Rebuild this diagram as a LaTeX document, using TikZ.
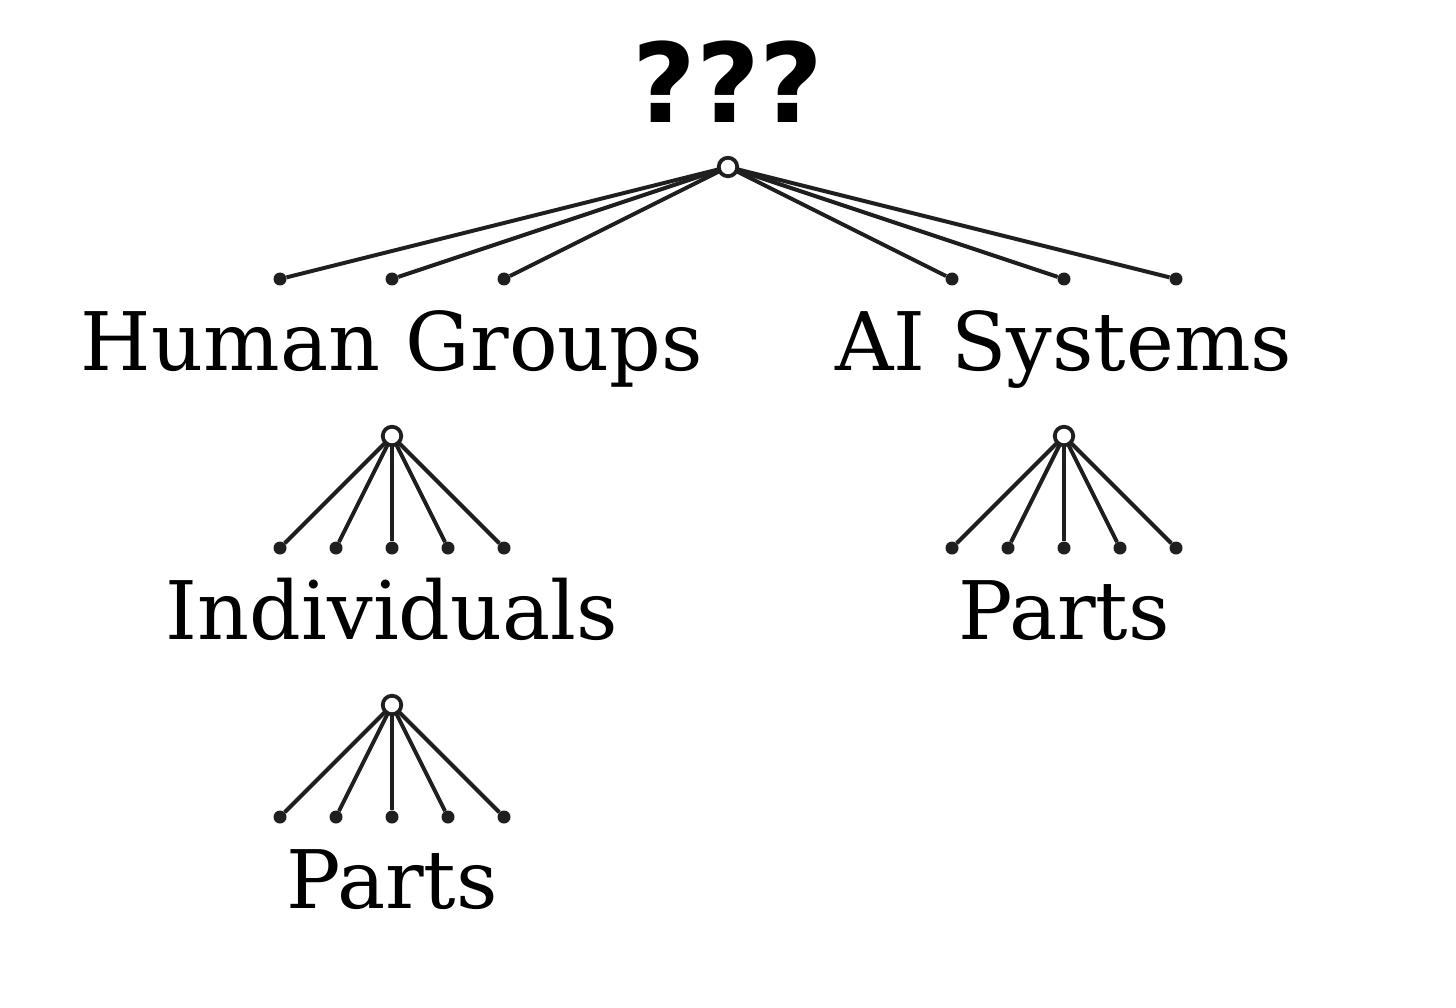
\documentclass[tikz,border=0pt]{standalone}
\usepackage{fontspec}
\setmainfont{DejaVu Serif}
\newfontfamily\qfont{DejaVu Sans}
\begin{document}
\begin{tikzpicture}[x=1pt,y=-1pt,
  edge/.style={draw=black!88, line width=4pt},
  hub/.style={circle, draw=black!88, fill=white, line width=3.8pt, minimum size=18.5pt, inner sep=0pt},
  leaf/.style={circle, fill=black!88, minimum size=13pt, inner sep=0pt},
  lbl/.style={anchor=base, inner sep=0pt, font=\fontsize{80.8}{90}\selectfont},
  ttl/.style={anchor=base, inner sep=0pt, font=\qfont\bfseries\fontsize{110}{120}\selectfont}]
\useasboundingbox (0,0) rectangle (1456,1008);
\node[ttl] (title) at (728,123) {???};
% level 1
\coordinate (h0) at (728,167);
\foreach \i/\x in {1/280,2/392,3/504,4/952,5/1064,6/1176} {
  \node[leaf] (t\i) at (\x,279) {};
  \draw[edge] (h0) -- (t\i);
}
\node[hub] (hub0) at (h0) {};
\node[lbl] (hg) at (392,370) {Human Groups};
\node[lbl] (ai) at (1064,370) {AI Systems};
% level 2 left
\coordinate (h1) at (392,436);
\foreach \i/\x in {1/280,2/336,3/392,4/448,5/504} {
  \node[leaf] (a\i) at (\x,548) {};
  \draw[edge] (h1) -- (a\i);
}
\node[hub] (hub1) at (h1) {};
% level 2 right
\coordinate (h2) at (1064,436);
\foreach \i/\x in {1/952,2/1008,3/1064,4/1120,5/1176} {
  \node[leaf] (b\i) at (\x,548) {};
  \draw[edge] (h2) -- (b\i);
}
\node[hub] (hub2) at (h2) {};
\node[lbl] (ind) at (392,639) {Individuals};
\node[lbl] (p1) at (1064,639) {Parts};
% level 3
\coordinate (h3) at (392,705);
\foreach \i/\x in {1/280,2/336,3/392,4/448,5/504} {
  \node[leaf] (c\i) at (\x,817) {};
  \draw[edge] (h3) -- (c\i);
}
\node[hub] (hub3) at (h3) {};
\node[lbl] (p2) at (392,908) {Parts};
\end{tikzpicture}
\end{document}
